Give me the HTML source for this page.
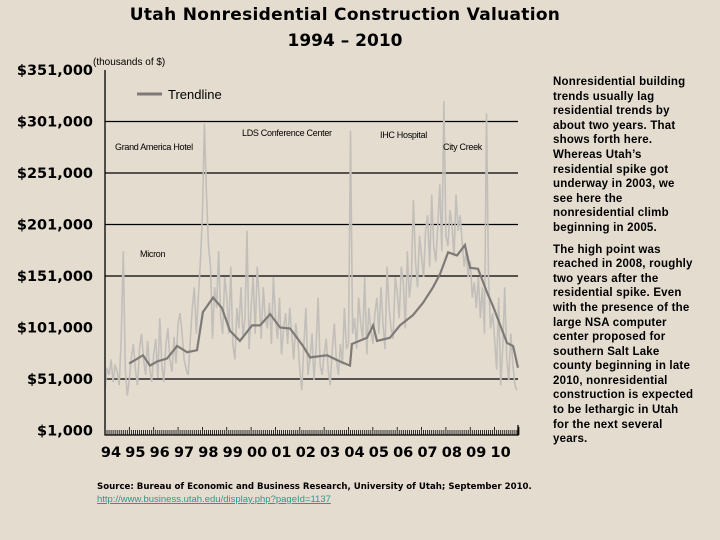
<!DOCTYPE html>
<html><head><meta charset="utf-8"><style>
html,body{margin:0;padding:0}
body{width:720px;height:540px;background:#e4dccf;position:relative;overflow:hidden;font-family:"Liberation Sans",sans-serif}
.t{position:absolute;white-space:nowrap}
</style></head><body>
<div class="t" style="left:0;width:690px;text-align:center;top:5px;font:bold 17px 'DejaVu Sans',sans-serif;letter-spacing:0.3px">Utah Nonresidential Construction Valuation</div>
<div class="t" style="left:0;width:690px;text-align:center;top:31px;font:bold 17px 'DejaVu Sans',sans-serif">1994 – 2010</div>
<div class="t" style="left:93px;top:57px;font-size:10px">(thousands of $)</div>
<svg id="chart" width="720" height="540" style="position:absolute;left:0;top:0"></svg>
<div class="t" style="left:553px;top:75px;font:bold 11.5px 'Liberation Sans',sans-serif;line-height:14.6px;letter-spacing:0.2px">Nonresidential building<br>trends usually lag<br>residential trends by<br>about two years. That<br>shows forth here.<br>Whereas Utah’s<br>residential spike got<br>underway in 2003, we<br>see here the<br>nonresidential climb<br>beginning in 2005.<div style="height:7px"></div>The high point was<br>reached in 2008, roughly<br>two years after the<br>residential spike. Even<br>with the presence of the<br>large NSA computer<br>center proposed for<br>southern Salt Lake<br>county beginning in late<br>2010, nonresidential<br>construction is expected<br>to be lethargic in Utah<br>for the next several<br>years.</div>
<div class="t" style="left:97px;top:482px;font:bold 8.6px 'DejaVu Sans',sans-serif">Source: Bureau of Economic and Business Research, University of Utah;  September 2010.</div>
<a class="t" style="left:97px;top:494px;font-size:9.5px;color:#2a9a8a;text-decoration:underline">http://www.business.utah.edu/display.php?pageId=1137</a>
<script>
const yTicks=[1,51,101,151,201,251,301,351];
const gridVals=[51,151,201,251,301];
const yearLabels=["94","95","96","97","98","99","00","01","02","03","04","05","06","07","08","09","10"];
const rawValues=[
40,62,55,70,48,65,58,45,90,175,60,35,
50,72,85,60,45,80,95,70,55,88,62,48,
75,90,52,110,65,48,85,100,70,58,92,66,
105,115,95,70,60,55,88,120,140,95,130,165,
210,299,230,180,160,90,140,120,175,110,95,150,
130,95,160,85,70,120,100,140,90,110,195,80,
120,150,95,160,130,90,140,110,100,125,85,150,
110,90,130,75,100,115,85,120,95,70,105,90,
60,40,85,120,55,70,95,50,80,130,65,55,
75,90,60,45,80,105,70,55,85,65,120,80,
85,292,95,110,80,130,105,90,150,75,120,100,
85,115,130,95,140,105,80,160,120,100,90,150,
135,110,160,145,100,175,130,150,225,165,140,190,
170,150,195,210,160,230,180,165,200,240,175,321,
190,180,215,200,170,230,195,210,185,160,175,150,
165,130,145,120,150,110,140,95,309,150,100,115,
90,60,130,45,80,140,70,50,95,65,45,40];
const trendYears=[0.99,1.56,1.85,2.14,2.55,2.96,3.37,3.78,4.02,4.44,4.80,5.13,5.54,6.04,6.37,6.78,7.19,7.60,8.13,8.42,9.12,9.65,10.06,10.14,10.76,11.01,11.17,11.70,12.11,12.65,13.06,13.47,13.76,14.09,14.46,14.78,14.99,15.32,15.69,15.93,16.51,16.76,16.96];
const trendValues=[66,74,64,68,71,83,77,79,116,130,120,98,88,103,103,114,101,100,83,72,74,68,64,85,91,103,88,91,103,113,125,140,153,174,171,181,159,158,135,122,86,83,62];
const annotations=[["Grand America Hotel",115,150],["LDS Conference Center",242,136],["IHC Hospital",380,138],["City Creek",443,150],["Micron",140,257]];

const svg=document.getElementById('chart');const NS='http://www.w3.org/2000/svg';
const X=yr=>105+yr*24.35;
const Y=v=>121.5+(301-v)*1.03;
function mk(t,a){const e=document.createElementNS(NS,t);for(const k in a)e.setAttribute(k,a[k]);svg.appendChild(e);return e;}
gridVals.forEach(v=>{const l=mk('line',{x1:105,x2:518,y1:Y(v),y2:Y(v),stroke:'#000','stroke-width':1.2});

});
yTicks.forEach(v=>{const t=mk('text',{x:93,y:Y(v)+5,'text-anchor':'end','font-family':'DejaVu Sans, sans-serif','font-weight':'bold','font-size':'14.5'});t.textContent='$'+v.toLocaleString('en-US')+',000';

});
let rp='';rawValues.forEach((v,i)=>{rp+=(i?'L':'M')+X(i/12).toFixed(1)+','+Y(v).toFixed(1);});
const raw=mk('path',{d:rp,fill:'none',stroke:'#c2bfba','stroke-width':1.6});


let tp='';trendYears.forEach((y,i)=>{tp+=(i?'L':'M')+X(y).toFixed(1)+','+Y(trendValues[i]).toFixed(1);});
const tr=mk('path',{d:tp,fill:'none',stroke:'#7d7a77','stroke-width':2.2});


const ax=mk('path',{d:'M105,70V435H518V425',fill:'none',stroke:'#000','stroke-width':1.3});


for(let m=0;m<=204;m++){const h=m%12===0?8:5;const k=mk('line',{x1:X(m/12),x2:X(m/12),y1:435-h,y2:435,stroke:'#000','stroke-width':0.8});

}
yearLabels.forEach((s,i)=>{const t=mk('text',{x:X(i)+6,y:457,'text-anchor':'middle','font-family':'DejaVu Sans, sans-serif','font-weight':'bold','font-size':'14.5'});t.textContent=s;

});
annotations.forEach(a=>{const t=mk('text',{x:a[1],y:a[2],'font-family':'Liberation Sans, sans-serif','font-size':'9','letter-spacing':'-0.3'});t.textContent=a[0];

});
const ll=mk('line',{x1:137,x2:162,y1:94,y2:94,stroke:'#7d7a77','stroke-width':3});


const lt=mk('text',{x:168,y:99,'font-family':'Liberation Sans, sans-serif','font-size':'13'});lt.textContent='Trendline';


</script>
</body></html>
